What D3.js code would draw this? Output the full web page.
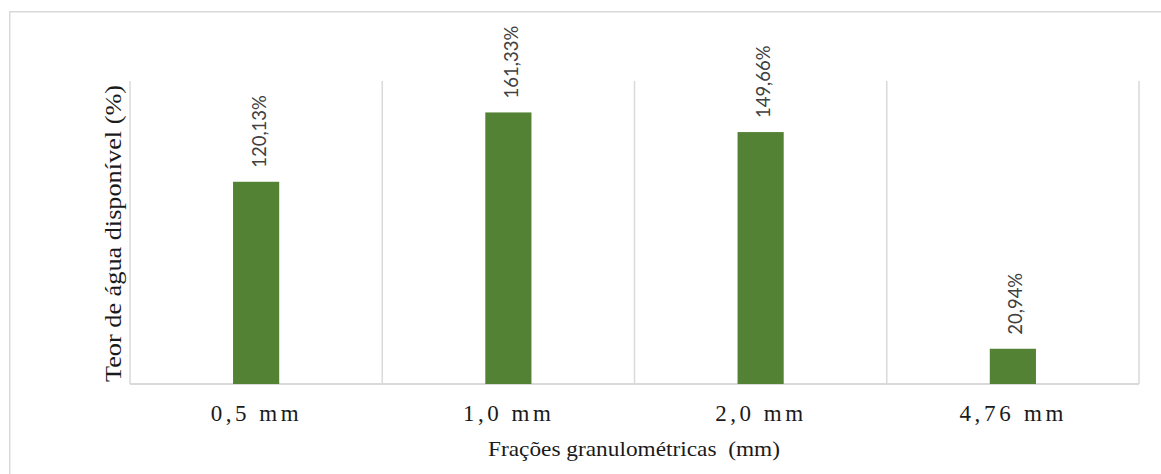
<!DOCTYPE html>
<html>
<head>
<meta charset="utf-8">
<script src="https://cdn.jsdelivr.net/npm/d3@7"></script>
<style>
  html, body { margin: 0; padding: 0; background: #ffffff; }
  svg { display: block; }
</style>
</head>
<body>
<div id="chart"></div>
<script>
// ---- data ----
const categories = ["0,5 mm", "1,0 mm", "2,0 mm", "4,76 mm"];
const values = [120.13, 161.33, 149.66, 20.94];
const valueLabels = ["120,13%", "161,33%", "149,66%", "20,94%"];
const tickLabelWidths = [88, 88, 88, 104];
const yDomain = [0, 180];
const xTitle = "Frações granulométricas  (mm)";
const yTitle = "Teor de água disponível (%)";

// ---- layout ----
const W = 1161, H = 474;
const plot = { left: 130, right: 1139, top: 81, bottom: 384 };
const gridColor = "#d9d9d9";
const barColor = "#548235";

const svg = d3.select("#chart").append("svg")
  .attr("width", W).attr("height", H);

// outer chart border (only left and top visible)
svg.append("rect")
  .attr("x", 9.75).attr("y", 11.75)
  .attr("width", W + 20).attr("height", H + 20)
  .attr("fill", "none").attr("stroke", gridColor).attr("stroke-width", 1.5);

const x = d3.scaleBand().domain(categories).range([plot.left, plot.right]).padding(0);
const y = d3.scaleLinear().domain(yDomain).range([plot.bottom, plot.top]);

// vertical gridlines at category boundaries (including right edge)
const bounds = categories.map(c => x(c) + x.bandwidth()).concat([x(categories[0])]);
svg.append("g").selectAll("line").data(bounds).join("line")
  .attr("x1", d => d).attr("x2", d => d)
  .attr("y1", y(yDomain[1])).attr("y2", y(0))
  .attr("stroke", gridColor).attr("stroke-width", 1.5);

// baseline
svg.append("line")
  .attr("x1", plot.left).attr("x2", plot.right)
  .attr("y1", y(0)).attr("y2", y(0))
  .attr("stroke", gridColor).attr("stroke-width", 2);

// bars
const barW = x.bandwidth() * 0.183;
svg.append("g").selectAll("rect").data(values).join("rect")
  .attr("x", (d, i) => x(categories[i]) + x.bandwidth() / 2 - barW / 2)
  .attr("y", d => y(d))
  .attr("width", barW)
  .attr("height", d => y(0) - y(d))
  .attr("fill", barColor);

// data labels (rotated)
svg.append("g").selectAll("text").data(values).join("text")
  .attr("transform", (d, i) => `translate(${x(categories[i]) + x.bandwidth() / 2 + 9.5},${y(d) - 14}) rotate(-90)`)
  .attr("text-anchor", "start")
  .style("font-family", "Lato, 'Open Sans', sans-serif")
  .style("font-size", "18.5px")
  .attr("fill", "#404040")
  .text((d, i) => valueLabels[i]);

// category tick labels
svg.append("g").selectAll("text").data(categories).join("text")
  .attr("x", (d, i) => x(d) + x.bandwidth() / 2 - 1.5)
  .attr("y", 421)
  .attr("text-anchor", "middle")
  .attr("textLength", (d, i) => tickLabelWidths[i])
  .attr("lengthAdjust", "spacing")
  .style("font-family", "'Liberation Serif', 'Times New Roman', serif")
  .style("font-size", "23px")
  .style("white-space", "pre")
  .attr("fill", "#1a1a1a")
  .text(d => d);

// x title
svg.append("text")
  .attr("x", 634).attr("y", 456)
  .attr("text-anchor", "middle")
  .attr("textLength", 292)
  .attr("lengthAdjust", "spacingAndGlyphs")
  .style("font-family", "'Liberation Serif', 'Times New Roman', serif")
  .style("font-size", "22px")
  .style("white-space", "pre")
  .attr("fill", "#1a1a1a")
  .text(xTitle);

// y title
svg.append("text")
  .attr("transform", `translate(121,233.5) rotate(-90)`)
  .attr("text-anchor", "middle")
  .attr("textLength", 297)
  .attr("lengthAdjust", "spacingAndGlyphs")
  .style("font-family", "'Liberation Serif', 'Times New Roman', serif")
  .style("font-size", "23px")
  .attr("fill", "#1a1a1a")
  .text(yTitle);
</script>
</body>
</html>
